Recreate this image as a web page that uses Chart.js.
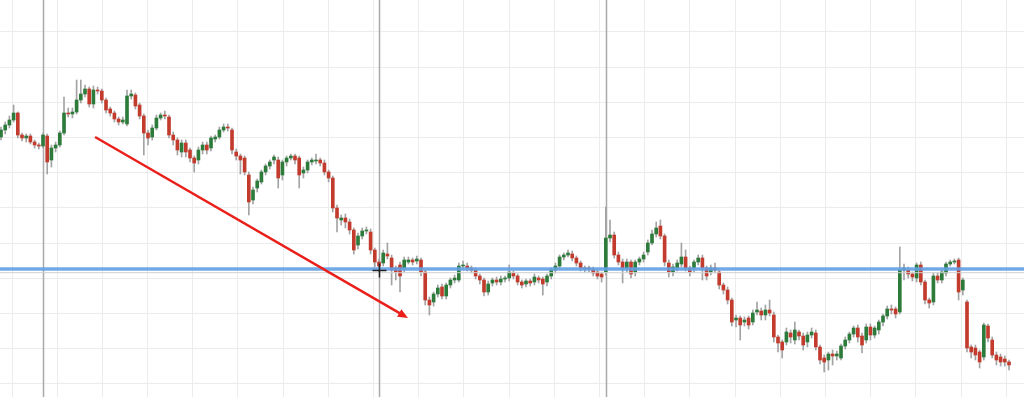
<!DOCTYPE html>
<html lang="en">
<head>
    <meta charset="UTF-8">
    <title>Price chart</title>
    <style>
        html, body { margin: 0; padding: 0; background: #fff; }
        #wrap { position: relative; width: 1024px; height: 397px; }
    </style>
</head>
<body>
    <div id="wrap"><canvas id="price-chart"></canvas></div>

    <script src="https://cdn.jsdelivr.net/npm/chart.js"></script>
    <script>
        // Candle data (one entry per bar, oldest first)
        const openPrices = [
            263,270,275,280,287,265,262,264,258,255,254,264,
            240,252,255,267,287,286,288,300,306,311,296,310,
            309,300,291,287,281,278,276,304,305,295,284,267,
            263,272,282,285,283,265,260,248,257,250,242,240,
            250,255,252,261,263,270,273,270,248,244,242,225,
            200,212,218,228,234,240,240,225,238,242,244,242,
            227,230,238,239,240,237,228,222,192,180,182,178,
            170,155,164,169,168,150,138,137,146,142,132,135,
            132,138,140,139,140,128,100,98,106,113,104,115,
            120,120,134,134,132,130,124,120,108,117,120,118,
            121,122,127,124,118,116,119,118,122,121,118,124,
            130,134,143,145,146,142,137,132,132,131,128,126,
            128,162,165,145,138,132,138,128,138,141,148,157,
            166,174,164,137,128,132,136,143,132,132,138,142,
            132,128,132,128,115,110,100,80,82,78,82,78,
            88,89,85,90,85,63,58,58,67,60,68,64,
            58,65,67,53,42,40,46,44,42,54,60,66,
            72,64,60,73,65,70,78,84,91,91,88,130,
            130,126,122,135,118,100,98,124,120,127,136,138,
            140,110,98,53,52,48,43,74,60,45,43,41,38
        ];
        const closePrices = [
            270,275,280,287,265,262,264,258,255,254,265,238,
            252,255,267,287,286,288,300,306,311,296,310,309,
            300,290,287,281,278,280,304,306,294,284,267,262,
            272,282,285,284,265,260,250,257,248,242,237,250,
            255,250,262,263,270,273,272,250,244,240,228,198,
            210,219,228,234,238,243,222,238,242,244,240,225,
            230,238,240,240,237,228,222,192,182,182,178,170,
            150,164,169,170,150,138,134,147,144,130,128,124,
            140,140,138,141,128,100,95,106,112,104,115,120,
            122,134,135,132,130,124,120,108,116,120,118,121,
            122,128,124,118,115,119,117,123,120,116,124,130,
            134,143,145,147,142,137,132,131,131,127,124,123,
            162,165,145,138,132,138,126,138,141,145,157,166,
            172,164,138,128,133,137,143,132,128,138,142,132,
            124,132,130,115,110,100,78,82,75,80,75,87,
            90,85,90,87,63,57,50,68,63,70,64,55,
            65,68,53,40,38,46,44,46,54,60,66,72,
            63,55,73,65,72,78,84,91,90,86,130,132,
            126,123,135,118,100,97,124,120,128,136,138,139,
            108,120,52,48,45,38,75,62,45,40,38,38,35
        ];
        const highPrices = [
            273,278,284,295,288,267,266,266,260,257,267,266,
            255,258,269,303,292,292,320,320,315,313,314,313,
            311,302,293,289,283,283,310,310,307,297,286,270,
            275,285,287,289,285,268,262,260,260,252,244,253,
            258,258,264,265,273,276,276,272,251,246,244,228,
            213,221,230,236,240,245,243,240,244,246,246,244,
            233,240,242,246,242,240,230,224,195,185,186,181,
            172,167,172,173,171,152,141,150,157,145,134,138,
            143,143,142,144,142,130,103,108,115,116,117,122,
            125,137,139,137,134,132,126,122,119,122,123,124,
            124,135,129,126,120,121,121,126,124,123,126,132,
            137,145,147,150,149,144,139,134,134,133,130,128,
            193,180,168,148,141,141,140,140,143,148,160,170,
            178,180,166,140,136,140,157,150,134,140,145,145,
            134,135,137,130,117,113,102,85,84,83,84,90,
            98,92,95,100,88,65,60,72,70,78,70,67,
            68,72,70,55,45,48,50,49,56,63,68,74,
            75,67,76,76,74,80,86,94,95,93,153,136,
            133,128,137,138,120,102,127,127,130,138,140,141,
            142,122,100,55,55,50,77,76,63,48,46,44,40
        ];
        const lowPrices = [
            260,266,272,278,262,259,258,256,252,251,252,226,
            233,248,253,265,283,282,286,297,303,293,292,306,
            297,287,284,278,275,276,274,301,291,281,245,255,
            260,270,280,281,262,255,245,243,243,238,228,236,
            246,246,249,258,261,268,269,246,240,226,225,185,
            196,208,216,225,231,236,212,220,234,240,236,212,
            222,227,235,236,234,225,218,188,168,175,172,166,
            146,151,161,166,146,133,128,134,141,115,120,108,
            128,136,135,136,124,95,85,94,103,101,101,112,
            117,118,131,129,127,121,116,104,105,114,115,115,
            118,119,121,115,112,113,114,115,117,105,114,121,
            127,131,140,143,139,134,129,128,128,124,121,118,
            125,158,142,135,117,128,122,124,135,138,145,155,
            163,161,134,123,124,129,133,129,124,128,135,120,
            120,125,127,111,106,96,74,73,60,74,71,75,
            85,80,80,84,58,48,42,55,57,56,60,50,
            53,62,50,36,28,30,35,40,40,51,57,63,
            58,47,57,60,62,66,74,81,86,82,86,120,
            122,119,118,115,96,92,95,117,117,124,134,136,
            100,105,48,42,40,32,40,58,42,35,34,34,30
        ];

        // Drawn-on annotations (in bar index / price units)
        const levelPrice = 131;
        const levelShadow = 127.3;
        const sessionBreaks = [10, 90, 144];
        const arrowFrom = [22.4, 263];
        const arrowTo = [96.9, 82];
        const cursorAt = [90, 130];

        const upColor = '#2d7b3a';
        const downColor = '#c23b2c';

        const bodies = closePrices.map((c, i) => ({ x: i, y: [openPrices[i], c] }));
        const wicks = highPrices.map((h, i) => ({ x: i, y: [lowPrices[i], h] }));
        const bodyColors = closePrices.map((c, i) => c >= openPrices[i] ? upColor : downColor);

        // extra lines drawn by hand on the screenshot
        const overlays = {
            id: 'overlays',
            beforeDatasetsDraw(chart) {
                const { ctx, chartArea, scales: { x } } = chart;
                ctx.save();
                ctx.strokeStyle = '#a9a9a9';
                ctx.lineWidth = 1.5;
                sessionBreaks.forEach(i => {
                    const px = Math.round(x.getPixelForValue(i)) + 0.5;
                    ctx.beginPath();
                    ctx.moveTo(px, chartArea.top);
                    ctx.lineTo(px, chartArea.bottom);
                    ctx.stroke();
                });
                ctx.restore();
            },
            afterDatasetsDraw(chart) {
                const { ctx, chartArea, scales: { x, y } } = chart;
                ctx.save();

                // support level
                let py = y.getPixelForValue(levelShadow);
                ctx.strokeStyle = '#cfcfcf';
                ctx.lineWidth = 1;
                ctx.beginPath();
                ctx.moveTo(chartArea.left, py);
                ctx.lineTo(chartArea.right, py);
                ctx.stroke();

                py = y.getPixelForValue(levelPrice);
                ctx.strokeStyle = 'rgba(98, 160, 228, 0.9)';
                ctx.lineWidth = 3.5;
                ctx.beginPath();
                ctx.moveTo(chartArea.left, py);
                ctx.lineTo(chartArea.right, py);
                ctx.stroke();

                // red arrow
                const x1 = x.getPixelForValue(arrowFrom[0]), y1 = y.getPixelForValue(arrowFrom[1]);
                const x2 = x.getPixelForValue(arrowTo[0]), y2 = y.getPixelForValue(arrowTo[1]);
                const ang = Math.atan2(y2 - y1, x2 - x1);
                const head = 11;
                ctx.strokeStyle = '#ea1f1a';
                ctx.fillStyle = '#ea1f1a';
                ctx.lineWidth = 2.4;
                ctx.beginPath();
                ctx.moveTo(x1, y1);
                ctx.lineTo(x2 - Math.cos(ang) * head * 0.7, y2 - Math.sin(ang) * head * 0.7);
                ctx.stroke();
                ctx.beginPath();
                ctx.moveTo(x2, y2);
                ctx.lineTo(x2 - head * Math.cos(ang - 0.4), y2 - head * Math.sin(ang - 0.4));
                ctx.lineTo(x2 - head * Math.cos(ang + 0.4), y2 - head * Math.sin(ang + 0.4));
                ctx.closePath();
                ctx.fill();

                // mouse cursor cross
                const cx = Math.round(x.getPixelForValue(cursorAt[0])) + 0.5;
                const cy = Math.round(y.getPixelForValue(cursorAt[1])) + 0.5;
                ctx.strokeStyle = '#222';
                ctx.lineWidth = 1.5;
                ctx.beginPath();
                ctx.moveTo(cx - 7, cy);
                ctx.lineTo(cx + 7, cy);
                ctx.moveTo(cx, cy - 7);
                ctx.lineTo(cx, cy + 7);
                ctx.stroke();

                ctx.restore();
            }
        };

        new Chart(document.getElementById('price-chart'), {
            type: 'bar',
            data: {
                datasets: [{
                    label: 'Body',
                    data: bodies,
                    backgroundColor: bodyColors,
                    borderWidth: 0,
                    barThickness: 3,
                    minBarLength: 1,
                    grouped: false
                }, {
                    label: 'Wick',
                    data: wicks,
                    backgroundColor: '#a3a3a3',
                    borderWidth: 0,
                    barThickness: 1,
                    grouped: false
                }]
            },
            options: {
                animation: false,
                responsive: true,
                maintainAspectRatio: false,
                layout: { padding: 0 },
                plugins: {
                    legend: { display: false },
                    tooltip: { enabled: false }
                },
                scales: {
                    x: {
                        type: 'linear',
                        min: -0.24,
                        max: 243.57,
                        offset: false,
                        afterBuildTicks: scale => {
                            const ticks = [];
                            for (let v = 2.62; v <= scale.max; v += 10.76) ticks.push({ value: v });
                            scale.ticks = ticks;
                        },
                        ticks: { display: false },
                        border: { display: false },
                        grid: { color: '#ececec', drawTicks: false, offset: false }
                    },
                    y: {
                        min: 3,
                        max: 400,
                        afterBuildTicks: scale => {
                            const ticks = [];
                            for (let v = 368; v >= scale.min; v -= 35.2) ticks.push({ value: v });
                            scale.ticks = ticks;
                        },
                        ticks: { display: false },
                        border: { display: false },
                        grid: { color: '#ececec', drawTicks: false }
                    }
                }
            },
            plugins: [overlays]
        });
    </script>
</body>
</html>
